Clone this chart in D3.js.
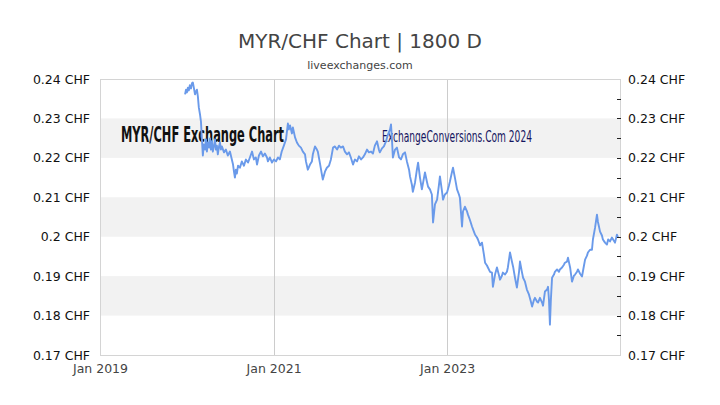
<!DOCTYPE html>
<html><head><meta charset="utf-8">
<script src="https://cdn.jsdelivr.net/npm/d3@7"></script>
<style>
html,body{margin:0;padding:0;background:#fff;}
svg{display:block;}
</style></head>
<body>
<svg id="chart" width="720" height="405"></svg>
<script>
const title = "MYR/CHF Chart | 1800 D";
const subtitle = "liveexchanges.com";
const watermark1 = "MYR/CHF Exchange Chart";
const watermark2 = "ExchangeConversions.Com 2024";
const yTicks = [0.17, 0.18, 0.19, 0.20, 0.21, 0.22, 0.23, 0.24];
const yMinorTicks = [0.175, 0.185, 0.195, 0.205, 0.215, 0.225, 0.235];
const bands = [[0.22, 0.23], [0.20, 0.21], [0.18, 0.19]];
const xTicks = ["2019-01-01", "2021-01-01", "2023-01-01"];
const xDomain = ["2019-01-01", "2024-12-29"];

const dates = [
"2019-12-25","2019-12-29","2020-01-02","2020-01-06","2020-01-10","2020-01-14","2020-01-19","2020-01-23","2020-01-27","2020-01-31",
"2020-02-05","2020-02-09","2020-02-13","2020-02-17","2020-02-21","2020-02-26","2020-03-01","2020-03-05","2020-03-09","2020-03-13",
"2020-03-18","2020-03-22","2020-03-26","2020-03-30","2020-04-04","2020-04-08","2020-04-12","2020-04-16","2020-04-20","2020-04-25",
"2020-04-29","2020-05-03","2020-05-07","2020-05-11","2020-05-16","2020-05-20","2020-05-24","2020-05-28","2020-06-06","2020-06-14",
"2020-06-22","2020-07-01","2020-07-09","2020-07-14","2020-07-18","2020-07-22","2020-07-26","2020-07-30","2020-08-04","2020-08-12",
"2020-08-20","2020-08-29","2020-09-06","2020-09-15","2020-09-23","2020-10-02","2020-10-10","2020-10-18","2020-10-23","2020-10-31",
"2020-11-09","2020-11-17","2020-11-25","2020-12-04","2020-12-08","2020-12-16","2020-12-25","2021-01-02","2021-01-11","2021-01-19",
"2021-01-27","2021-02-04","2021-02-13","2021-02-22","2021-02-26","2021-03-02","2021-03-06","2021-03-11","2021-03-19","2021-03-23",
"2021-04-01","2021-04-09","2021-04-17","2021-04-26","2021-05-04","2021-05-13","2021-05-17","2021-05-25","2021-06-03","2021-06-11",
"2021-06-15","2021-06-24","2021-07-02","2021-07-06","2021-07-15","2021-07-23","2021-07-27","2021-08-05","2021-08-13","2021-08-22",
"2021-08-30","2021-09-08","2021-09-16","2021-09-25","2021-10-03","2021-10-11","2021-10-20","2021-10-28","2021-11-06","2021-11-14",
"2021-11-22","2021-12-01","2021-12-09","2021-12-18","2021-12-26","2022-01-04","2022-01-12","2022-01-20","2022-01-29","2022-02-06",
"2022-02-15","2022-02-23","2022-03-03","2022-03-12","2022-03-20","2022-03-24","2022-04-02","2022-04-10","2022-04-19","2022-04-27",
"2022-05-06","2022-05-10","2022-05-14","2022-05-18","2022-05-27","2022-06-04","2022-06-13","2022-06-21","2022-06-29","2022-07-08",
"2022-07-16","2022-07-25","2022-07-29","2022-08-06","2022-08-10","2022-08-19","2022-08-27","2022-09-01","2022-09-09","2022-09-17",
"2022-09-26","2022-09-30","2022-10-08","2022-10-13","2022-10-21","2022-10-29","2022-11-03","2022-11-11","2022-11-20","2022-11-28",
"2022-12-02","2022-12-11","2022-12-15","2022-12-23","2023-01-01","2023-01-09","2023-01-13","2023-01-22","2023-01-26","2023-02-03",
"2023-02-12","2023-02-20","2023-02-24","2023-03-05","2023-03-09","2023-03-17","2023-03-26","2023-03-30","2023-04-07","2023-04-16",
"2023-04-24","2023-04-29","2023-05-07","2023-05-11","2023-05-20","2023-05-28","2023-06-05","2023-06-10","2023-06-18","2023-06-22",
"2023-07-01","2023-07-09","2023-07-13","2023-07-22","2023-07-30","2023-08-08","2023-08-12","2023-08-20","2023-08-24","2023-09-02",
"2023-09-10","2023-09-14","2023-09-23","2023-10-01","2023-10-06","2023-10-14","2023-10-22","2023-10-31","2023-11-04","2023-11-12",
"2023-11-17","2023-11-25","2023-12-03","2023-12-12","2023-12-20","2023-12-25","2024-01-02","2024-01-06","2024-01-15","2024-01-19",
"2024-01-27","2024-02-05","2024-02-09","2024-02-17","2024-02-26","2024-03-01","2024-03-05","2024-03-09","2024-03-13","2024-03-18",
"2024-03-26","2024-03-30","2024-04-08","2024-04-16","2024-04-20","2024-04-29","2024-05-07","2024-05-11","2024-05-20","2024-05-24",
"2024-06-02","2024-06-10","2024-06-18","2024-06-23","2024-07-01","2024-07-05","2024-07-14","2024-07-22","2024-07-31","2024-08-04",
"2024-08-12","2024-08-16","2024-08-25","2024-09-02","2024-09-06","2024-09-15","2024-09-23","2024-09-27","2024-10-06","2024-10-14",
"2024-10-18","2024-10-27","2024-11-04","2024-11-09","2024-11-17","2024-11-25","2024-11-30","2024-12-08","2024-12-16","2024-12-21"
];

const rates = [
0.2361,0.2373,0.2366,0.2378,0.2371,0.2384,0.2376,0.2389,0.2391,0.2378,
0.2361,0.2368,0.2373,0.2356,0.2328,0.2310,0.2292,0.2247,0.2206,0.2234,
0.2221,0.2247,0.2216,0.2239,0.2226,0.2249,0.2221,0.2242,0.2216,0.2231,
0.2247,0.2221,0.2231,0.2209,0.2229,0.2239,0.2221,0.2229,0.2214,0.2221,
0.2206,0.2216,0.2196,0.2183,0.2165,0.2150,0.2170,0.2160,0.2180,0.2175,
0.2191,0.2180,0.2196,0.2188,0.2201,0.2216,0.2196,0.2201,0.2183,0.2206,
0.2216,0.2204,0.2211,0.2201,0.2191,0.2201,0.2188,0.2196,0.2191,0.2201,
0.2196,0.2216,0.2231,0.2247,0.2267,0.2287,0.2272,0.2282,0.2262,0.2277,
0.2252,0.2239,0.2231,0.2226,0.2216,0.2209,0.2191,0.2170,0.2183,0.2191,
0.2209,0.2229,0.2221,0.2216,0.2186,0.2158,0.2145,0.2165,0.2175,0.2180,
0.2196,0.2226,0.2229,0.2221,0.2231,0.2226,0.2229,0.2216,0.2209,0.2214,
0.2201,0.2183,0.2196,0.2191,0.2204,0.2196,0.2201,0.2209,0.2221,0.2214,
0.2216,0.2211,0.2231,0.2242,0.2221,0.2214,0.2224,0.2229,0.2242,0.2259,
0.2272,0.2285,0.2247,0.2201,0.2221,0.2226,0.2201,0.2196,0.2209,0.2214,
0.2191,0.2170,0.2153,0.2132,0.2114,0.2137,0.2170,0.2188,0.2150,0.2120,
0.2150,0.2163,0.2140,0.2127,0.2120,0.2107,0.2036,0.2082,0.2094,0.2132,
0.2153,0.2114,0.2094,0.2107,0.2112,0.2130,0.2140,0.2165,0.2175,0.2150,
0.2120,0.2107,0.2099,0.2026,0.2064,0.2076,0.2064,0.2056,0.2043,0.2026,
0.2013,0.2005,0.1998,0.1993,0.1978,0.1985,0.1955,0.1934,0.1927,0.1922,
0.1911,0.1909,0.1873,0.1904,0.1922,0.1901,0.1891,0.1901,0.1909,0.1904,
0.1911,0.1922,0.1960,0.1937,0.1924,0.1896,0.1871,0.1911,0.1937,0.1911,
0.1896,0.1886,0.1866,0.1853,0.1835,0.1823,0.1840,0.1845,0.1835,0.1833,
0.1845,0.1833,0.1825,0.1861,0.1866,0.1873,0.1840,0.1777,0.1840,0.1896,
0.1904,0.1911,0.1917,0.1911,0.1917,0.1922,0.1929,0.1934,0.1937,0.1947,
0.1922,0.1886,0.1901,0.1904,0.1911,0.1917,0.1906,0.1899,0.1929,0.1942,
0.1952,0.1960,0.1967,0.1967,0.1993,0.2023,0.2056,0.2038,0.2013,0.2003,
0.1993,0.1985,0.1980,0.1993,0.1988,0.1998,0.1993,0.1985,0.2005,0.1998
];

const parse = d3.timeParse("%Y-%m-%d");
const data = dates.map((d, i) => ({date: parse(d), value: rates[i]}));

const svg = d3.select("#chart");
const mLeft = 100, mRight = 620, mTop = 79, mBottom = 355;

const x = d3.scaleTime().domain(xDomain.map(parse)).range([mLeft, mRight]);
const y = d3.scaleLinear().domain([0.17, 0.24]).range([mBottom, mTop]);

// bands
svg.append("g").selectAll("rect").data(bands).join("rect")
  .attr("x", mLeft).attr("width", mRight - mLeft)
  .attr("y", d => y(d[1])).attr("height", d => y(d[0]) - y(d[1]))
  .attr("fill", "#f2f2f2");

// vertical grid lines
svg.append("g").selectAll("line").data(xTicks.map(parse)).join("line")
  .attr("x1", d => Math.round(x(d)) + 0.5).attr("x2", d => Math.round(x(d)) + 0.5)
  .attr("y1", mTop).attr("y2", mBottom)
  .attr("stroke", "#cccccc").attr("stroke-width", 1);

// plot border
svg.append("rect").attr("x", mLeft + 0.5).attr("y", mTop + 0.5)
  .attr("width", mRight - mLeft).attr("height", mBottom - mTop)
  .attr("fill", "none").attr("stroke", "#d4d4d4").attr("stroke-width", 1);

// watermarks
svg.append("text").text(watermark1)
  .attr("x", 121).attr("y", 142)
  .attr("font-family", "'DejaVu Sans Condensed','DejaVu Sans',sans-serif")
  .attr("font-weight", "bold").attr("font-size", 21)
  .attr("textLength", 163).attr("lengthAdjust", "spacingAndGlyphs")
  .attr("fill", "#111");
svg.append("text").text(watermark2)
  .attr("x", 382).attr("y", 142)
  .attr("font-family", "'DejaVu Sans Condensed','DejaVu Sans',sans-serif")
  .attr("font-size", 15.5)
  .attr("textLength", 150).attr("lengthAdjust", "spacingAndGlyphs")
  .attr("fill", "#151560");

// line
const line = d3.line().x(d => x(d.date)).y(d => y(d.value));
svg.append("path").datum(data)
  .attr("d", line)
  .attr("fill", "none")
  .attr("stroke", "#6a9aea")
  .attr("stroke-width", 1.9)
  .attr("stroke-linejoin", "round");

const fmt = d => d3.format(".2~f")(d) + " CHF";
const font = "'DejaVu Sans', sans-serif";

// left axis
const yl = svg.append("g").attr("transform", `translate(${mLeft},0)`)
  .call(d3.axisLeft(y).tickValues(yTicks).tickFormat(fmt).tickSize(0).tickPadding(10));
yl.select(".domain").remove();
yl.selectAll("text").attr("font-family", font).attr("font-size", 12.5).attr("fill", "#111");

// right axis
const yr = svg.append("g").attr("transform", `translate(${mRight},0)`)
  .call(d3.axisRight(y).tickValues(yTicks).tickFormat(fmt).tickSize(0).tickPadding(8));
yr.select(".domain").remove();
yr.selectAll("text").attr("font-family", font).attr("font-size", 12.5).attr("fill", "#111");

// right ticks (major + minor)
svg.append("g").selectAll("line")
  .data(yTicks.concat(yMinorTicks).filter(v => v > 0.17 && v < 0.24)).join("line")
  .attr("x1", mRight - 3).attr("x2", mRight + 1)
  .attr("y1", d => Math.round(y(d)) + 0.5).attr("y2", d => Math.round(y(d)) + 0.5)
  .attr("stroke", "#222").attr("stroke-width", 1);

// bottom axis
const xa = svg.append("g").attr("transform", `translate(0,${mBottom})`)
  .call(d3.axisBottom(x).tickValues(xTicks.map(parse)).tickFormat(d3.timeFormat("%b %Y")).tickSize(0).tickPadding(9));
xa.select(".domain").remove();
xa.selectAll("text").attr("font-family", font).attr("font-size", 12.5).attr("fill", "#444");

// titles
svg.append("text").text(title)
  .attr("x", 360).attr("y", 48).attr("text-anchor", "middle")
  .attr("font-family", font).attr("font-size", 20).attr("fill", "#444");
svg.append("text").text(subtitle)
  .attr("x", 360).attr("y", 69).attr("text-anchor", "middle")
  .attr("font-family", font).attr("font-size", 11).attr("fill", "#444");
</script>
</body></html>
